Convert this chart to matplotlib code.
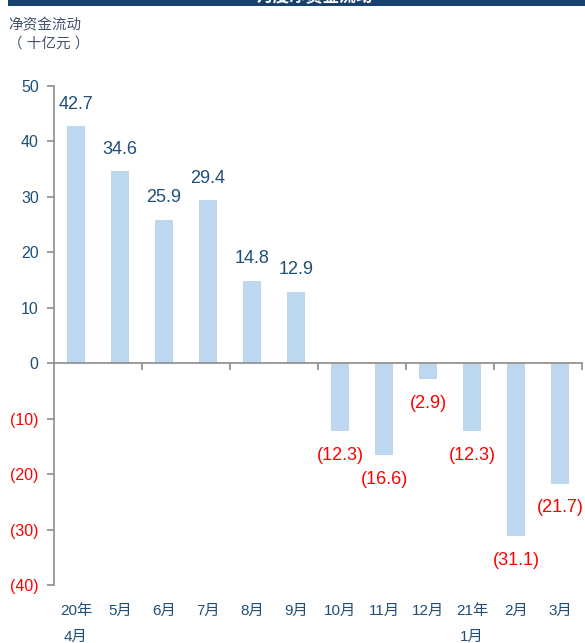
import matplotlib
matplotlib.use('Agg')
import matplotlib.pyplot as plt
import matplotlib.transforms as mtransforms
from matplotlib.patches import Rectangle

plt.rcParams['font.family'] = ['Liberation Sans', 'Noto Sans CJK SC', 'DejaVu Sans']

# data
months_line1 = ['20年', '5月', '6月', '7月', '8月', '9月', '10月', '11月', '12月', '21年', '2月', '3月']
months_line2 = ['4月', '', '', '', '', '', '', '', '', '1月', '', '']
net_flow = [42.7, 34.6, 25.9, 29.4, 14.8, 12.9, -12.3, -16.6, -2.9, -12.3, -31.1, -21.7]
y_ticks = [50, 40, 30, 20, 10, 0, -10, -20, -30, -40]

BLUE_TXT = '#1f4e79'
RED_TXT = '#ff0000'
BAR_COL = '#bdd7ee'
AXIS_COL = '#8c8c8c'


def fmt(v):
    if v < 0:
        return f'({abs(v):g})'
    return f'{v:g}'


W, H = 585, 643
fig = plt.figure(figsize=(W / 100, H / 100), dpi=100)
ax = fig.add_axes([54 / W, (H - 585) / H, 528 / W, 499 / H])

x = list(range(len(net_flow)))
ax.bar(x, net_flow, width=0.43, color=BAR_COL, zorder=2)

ax.set_xlim(-0.5, len(net_flow) - 0.5)
ax.set_ylim(-40, 50)

for s in ['top', 'right']:
    ax.spines[s].set_visible(False)
ax.spines['left'].set_color(AXIS_COL)
ax.spines['bottom'].set_color(AXIS_COL)
ax.spines['bottom'].set_position(('data', 0))
ax.spines['left'].set_linewidth(1.2)
ax.spines['bottom'].set_linewidth(1.2)

ax.set_xticks([1.5, 3.5, 5.5, 7.5, 9.5, 11.5])
ax.set_xticklabels([])
ax.tick_params(axis='x', direction='out', length=5, color=AXIS_COL, width=1.2)

ax.set_yticks(y_ticks)
ax.set_yticklabels([fmt(t) for t in y_ticks], fontsize=11.5)
ax.tick_params(axis='y', direction='out', length=5, color=AXIS_COL, width=1.2, pad=6)
for lab, t in zip(ax.get_yticklabels(), y_ticks):
    lab.set_color(RED_TXT if t < 0 else BLUE_TXT)

# value labels
for xi, v in zip(x, net_flow):
    if v >= 0:
        yy = min(v + 4.0, 49.7)
        ax.text(xi, yy, fmt(v), ha='center', va='center', fontsize=13, color=BLUE_TXT)
    else:
        ax.text(xi, v - 4.4, fmt(v), ha='center', va='center', fontsize=13, color=RED_TXT)

# category labels below the plot
trans = mtransforms.blended_transform_factory(ax.transData, fig.transFigure)
for xi, l1, l2 in zip(x, months_line1, months_line2):
    ax.text(xi, (H - 611) / H, l1, transform=trans, ha='center', va='center',
            fontsize=11, color=BLUE_TXT)
    if l2:
        ax.text(xi, (H - 637) / H, l2, transform=trans, ha='center', va='center',
                fontsize=11, color=BLUE_TXT)

# y-axis title
fig.text(8 / W, (H - 25) / H, '净资金流动', ha='left', va='center', fontsize=10.5, color='#44546a')
fig.text(8 / W, (H - 44) / H, '（ 十亿元 ）', ha='left', va='center', fontsize=10.5, color='#44546a')

# cropped title band at the top
fig.patches.append(Rectangle((8 / W, (H - 6) / H), 1, 6 / H, transform=fig.transFigure,
                             facecolor='#17406d', edgecolor='none'))
fig.text(315 / W, (H - 5) / H, '月度净资金流动', ha='center', va='bottom', fontsize=12,
         color='white', fontweight='bold')

fig.savefig('out.png', dpi=100)
